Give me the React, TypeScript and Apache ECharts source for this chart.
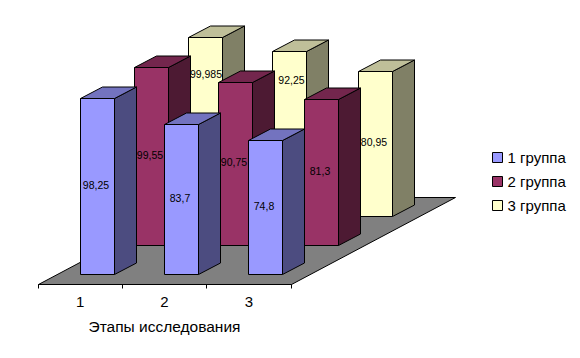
import React, { useEffect, useRef } from "react";
import * as echarts from "echarts";

const categories = ["1", "2", "3"];
const group1 = [98.25, 83.7, 74.8];
const group2 = [99.55, 90.75, 81.3];
const group3 = [99.985, 92.25, 80.95];
const seriesNames = ["1 группа", "2 группа", "3 группа"];
const axisTitle = "Этапы исследования";

const groups = [group1, group2, group3];
const faces = [
  { front: "#9999FF", top: "#7373BF", side: "#4C4C80" },
  { front: "#993366", top: "#73264D", side: "#4D1A33" },
  { front: "#FFFFCC", top: "#BFBF99", side: "#808066" },
];
// Two labels of the back row are moved clear of the bars in front of them.
const labelLift = [[2, 2, 2], [2, 2, 2], [53, 54, 2]];
const labelShift = [[-1.5, -1.5, -1.5], [-1.5, -1.5, -1.5], [0.5, 2, -1.5]];

const ROW_DX = 54;
const ROW_DY = 29;
const DEPTH_DX = 22;
const DEPTH_DY = 11.5;
const BASE_GAP = 10;
const FLOOR_DX = 164;
const FLOOR_DY = 87;
const snap = (v: number) => Math.round(v - 0.5) + 0.5;

const barRenderer = (row: number) => (params: any, api: any) => {
  const cat = api.value(0);
  const val = api.value(1);
  const origin = api.coord([cat, 0]);
  const h = api.size([0, val])[1];
  const w = Math.round(api.size([1, 0])[0] * 0.4);
  const nudge = cat === 2 && row > 0 ? 2 : 0;
  const x0 = snap(origin[0] + row * ROW_DX + nudge);
  const yBase = snap(origin[1] - BASE_GAP - row * ROW_DY);
  const yTop = snap(yBase - h);
  const x1 = x0 + w;
  const line = { stroke: "#000", lineWidth: 1, lineJoin: "miter" };
  const f = faces[row];
  const dx = DEPTH_DX;
  const dy = DEPTH_DY;
  return {
    type: "group",
    children: [
      {
        type: "polygon",
        shape: { points: [[x1, yTop], [x1 + dx, yTop - dy], [x1 + dx, yBase - dy], [x1, yBase]] },
        style: { fill: f.side, ...line },
      },
      {
        type: "polygon",
        shape: { points: [[x0, yTop], [x0 + dx, yTop - dy], [x1 + dx, yTop - dy], [x1, yTop]] },
        style: { fill: f.top, ...line },
      },
      {
        type: "rect",
        shape: { x: x0, y: yTop, width: w, height: yBase - yTop },
        style: { fill: f.front, ...line },
      },
      {
        type: "text",
        z2: 100,
        x: (x0 + x1) / 2 + labelShift[row][cat],
        y: (yTop + yBase) / 2 - labelLift[row][cat],
        style: {
          text: String(val).replace(".", ","),
          fill: "#000",
          font: '10.5px "Liberation Sans", Arial, sans-serif',
          align: "center",
          verticalAlign: "middle",
        },
      },
    ],
  };
};

const floorRenderer = (params: any) => {
  const { x, y, width, height } = params.coordSys;
  const xl = snap(x);
  const xr = snap(x + width);
  const yb = snap(y + height);
  return {
    type: "polygon",
    shape: {
      points: [
        [xl, yb],
        [xr, yb],
        [xr + FLOOR_DX, yb - FLOOR_DY],
        [xl + FLOOR_DX, yb - FLOOR_DY],
      ],
    },
    style: { fill: "#808080", stroke: "#000", lineWidth: 1 },
  };
};

export default function App() {
  const ref = useRef<HTMLDivElement>(null);
  useEffect(() => {
    const chart = echarts.init(ref.current!, null, { renderer: "svg" });
    const font = "Liberation Sans";
    chart.setOption({
      animation: false,
      backgroundColor: "#fff",
      textStyle: { fontFamily: font },
      grid: { left: 38, top: 15.35, width: 253, height: 268.65 },
      xAxis: {
        type: "category",
        data: categories,
        name: axisTitle,
        nameLocation: "middle",
        nameGap: 34,
        nameTextStyle: { fontSize: 15.5, color: "#000", fontFamily: font },
        axisLine: { show: false },
        axisTick: { show: false },
        axisLabel: { fontSize: 15, color: "#000", margin: 10, fontFamily: font },
      },
      yAxis: { type: "value", min: 0, max: 150, show: false },
      legend: {
        orient: "vertical",
        left: 487,
        top: 145,
        itemWidth: 10,
        itemHeight: 10,
        itemGap: 9,
        icon: "rect",
        data: seriesNames,
        textStyle: { fontSize: 15, color: "#000", fontFamily: font, padding: [0, 0, 0, 0] },
        itemStyle: { borderColor: "#000", borderWidth: 1 },
      },
      series: [
        {
          type: "custom",
          name: "floor",
          z: 1,
          silent: true,
          renderItem: floorRenderer,
          data: [[0, 0]],
          encode: { x: 0, y: 1 },
        },
        ...groups.map((vals, row) => ({
          type: "custom",
          name: seriesNames[row],
          z: 5 - row,
          renderItem: barRenderer(row),
          itemStyle: { color: faces[row].front, borderColor: "#000", borderWidth: 1 },
          data: vals.map((v, i) => [i, v]),
          encode: { x: 0, y: 1 },
        })),
        {
          type: "custom",
          name: "axis",
          z: 6,
          silent: true,
          renderItem: (params: any, api: any) => {
            const { x, y, width, height } = params.coordSys;
            const yb = snap(y + height);
            const step = width / categories.length;
            const children: any[] = [
              { type: "line", shape: { x1: snap(x), y1: yb, x2: snap(x + width), y2: yb }, style: { stroke: "#000", lineWidth: 1 } },
            ];
            categories.concat("").forEach((_, i) => {
              const tx = snap(x + i * step);
              children.push({ type: "line", shape: { x1: tx, y1: yb, x2: tx, y2: yb + 4 }, style: { stroke: "#000", lineWidth: 1 } });
            });
            return { type: "group", children };
          },
          data: [[0, 0]],
          encode: { x: 0, y: 1 },
        },
      ],
    });
    return () => chart.dispose();
  }, []);
  return <div ref={ref} style={{ position: "absolute", left: 0, top: 0, width: 580, height: 358 }} />;
}
